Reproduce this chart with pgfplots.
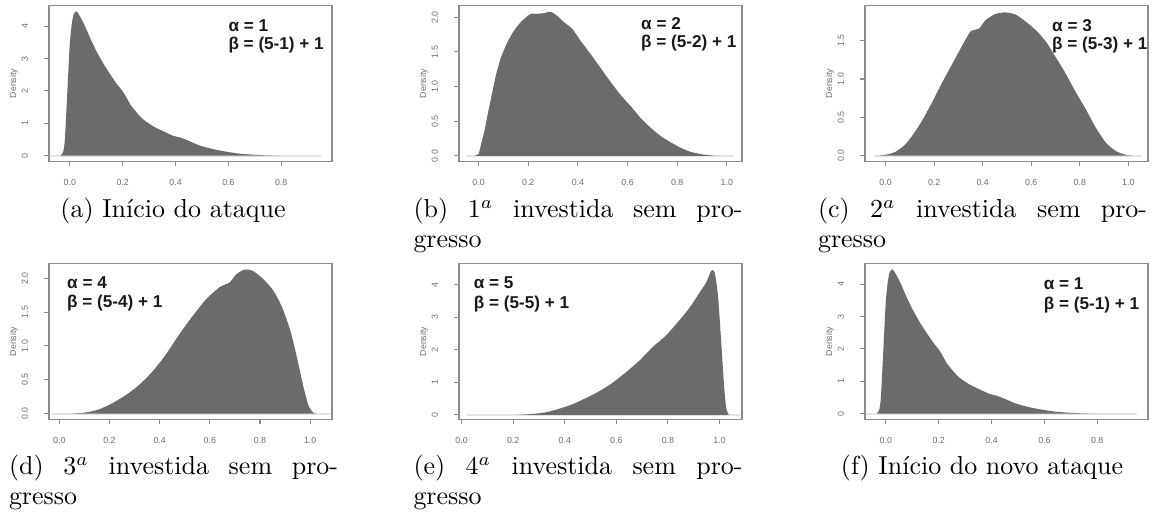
\documentclass[border=0pt]{standalone}
\usepackage{fontspec}
\usepackage{pgfplots}
\usepackage{pgfplotstable}
\pgfplotsset{compat=1.18}
\newfontfamily\rfont{Liberation Sans}
\definecolor{densfill}{HTML}{6B6B6B}
\definecolor{framegray}{HTML}{8C8C8C}
\definecolor{tickgray}{HTML}{6E6E6E}
\definecolor{zerogray}{HTML}{E4E4E4}

% Kernel density estimates of the five Beta priors
\pgfplotstableread{
x y
-0.035 0
-0.025 0.12
-0.019 0.49
-0.013 1.42
-0.006 2.57
0.000 3.50
0.008 4.12
0.015 4.38
0.025 4.46
0.040 4.28
0.059 3.97
0.078 3.61
0.103 3.19
0.128 2.83
0.153 2.51
0.179 2.20
0.204 1.94
0.229 1.58
0.254 1.32
0.279 1.11
0.317 0.90
0.355 0.75
0.392 0.61
0.418 0.56
0.455 0.44
0.493 0.31
0.543 0.20
0.594 0.12
0.644 0.06
0.694 0.03
0.745 0.01
0.795 0
}\densA

\pgfplotstableread{
x y
-0.017 0
0.000 0.03
0.009 0.16
0.023 0.35
0.036 0.59
0.050 0.83
0.070 1.17
0.090 1.42
0.116 1.64
0.143 1.81
0.170 1.93
0.197 2.02
0.210 2.05
0.237 2.05
0.264 2.06
0.290 2.08
0.317 2.02
0.344 1.93
0.378 1.83
0.411 1.66
0.451 1.47
0.491 1.27
0.531 1.07
0.572 0.88
0.612 0.72
0.652 0.55
0.692 0.41
0.732 0.29
0.772 0.20
0.813 0.12
0.853 0.06
0.906 0.02
0.950 0.003
0.970 0
}\densB

\pgfplotstableread{
x y
-0.027 0
0.014 0.02
0.041 0.05
0.076 0.13
0.110 0.26
0.151 0.46
0.192 0.70
0.234 0.96
0.275 1.20
0.316 1.44
0.350 1.62
0.385 1.66
0.412 1.77
0.453 1.85
0.495 1.87
0.536 1.84
0.577 1.75
0.618 1.64
0.660 1.49
0.700 1.29
0.742 1.07
0.783 0.83
0.824 0.61
0.865 0.37
0.907 0.17
0.948 0.06
0.989 0.01
1.016 0
}\densC

\pgfplotstableread{
x y
0.050 0
0.103 0.015
0.157 0.06
0.210 0.15
0.264 0.27
0.317 0.42
0.371 0.62
0.424 0.87
0.478 1.17
0.531 1.44
0.585 1.69
0.639 1.87
0.679 1.94
0.705 2.06
0.739 2.13
0.772 2.11
0.813 1.99
0.853 1.82
0.886 1.59
0.920 1.24
0.946 0.85
0.973 0.40
0.993 0.12
1.013 0.01
1.027 0
}\densD

\pgfplotstableread{
x y
0.210 0
0.275 0.03
0.326 0.08
0.378 0.19
0.430 0.33
0.482 0.52
0.534 0.73
0.585 0.99
0.637 1.31
0.689 1.67
0.741 2.09
0.793 2.45
0.845 2.92
0.883 3.29
0.922 3.76
0.948 4.07
0.968 4.44
0.981 4.39
0.994 3.66
1.006 2.30
1.017 0.94
1.026 0.21
1.036 0
}\densE

\newcommand\tickfont{\rfont\fontsize{3.4}{4}\selectfont}
\newcommand\notefont{\rfont\bfseries\fontsize{6.6}{7}\selectfont}

\pgfplotsset{
  densplot/.style={
    scale only axis, width=108.955pt, height=60.06pt,
    anchor=north west,
    axis on top,
    axis line style={draw=framegray, line width=0.5pt},
    tick align=outside, major tick length=1.9pt,
    every tick/.style={draw=framegray, line width=0.4pt},
    xtick pos=left, ytick pos=left,
    /pgf/number format/.cd, fixed, fixed zerofill, precision=1, assume math mode=true, /pgfplots/.cd,
    tick label style={font=\tickfont, text=tickgray, inner sep=0pt},
    xticklabel style={anchor=north},
    yticklabel style={rotate=90, anchor=south},
    xticklabel shift=4.9pt, yticklabel shift=6pt,
    ylabel={Density},
    ylabel style={font=\tickfont, text=tickgray, inner sep=0pt,
                  at={(axis description cs:-0.124,0.5)}, anchor=center},
  },
  zeroline/.style={draw=zerogray, line width=0.8pt},
  densarea/.style={fill=densfill, draw=none, smooth, tension=0.4},
}

\begin{document}
\begin{tikzpicture}
\path[use as bounding box] (0,0) rectangle (449.295pt,-199.045pt);

% (a)
\begin{axis}[densplot, at={(18.865pt,-2.1175pt)},
  xmin=-0.079, xmax=0.992, ymin=-0.18, ymax=4.64,
  xtick={0,0.2,0.4,0.6,0.8}, ytick={0,1,2,3,4},
  yticklabel style={/pgf/number format/precision=0}]
  \addplot[zeroline] coordinates {(-0.075,0) (0.95,0)};
  \addplot[densarea] table {\densA} \closedcycle;
\end{axis}

% (b)
\begin{axis}[densplot, at={(176.715pt,-2.1175pt)},
  xmin=-0.079, xmax=1.061, ymin=-0.08, ymax=2.17,
  xtick={0,0.2,0.4,0.6,0.8,1.0}, ytick={0,0.5,1,1.5,2}]
  \addplot[zeroline] coordinates {(-0.05,0) (1.027,0)};
  \addplot[densarea] table {\densB} \closedcycle;
\end{axis}

% (c)
\begin{axis}[densplot, at={(333.025pt,-2.1175pt)},
  xmin=-0.085, xmax=1.081, ymin=-0.077, ymax=1.96,
  xtick={0,0.2,0.4,0.6,0.8,1.0}, ytick={0,0.5,1,1.5}]
  \addplot[zeroline] coordinates {(-0.048,0) (1.058,0)};
  \addplot[densarea] table {\densC} \closedcycle;
\end{axis}

% (d)
\begin{axis}[densplot, at={(18.865pt,-101.45pt)},
  xmin=-0.041, xmax=1.087, ymin=-0.088, ymax=2.22,
  xtick={0,0.2,0.4,0.6,0.8,1.0}, ytick={0,0.5,1,1.5,2}]
  \addplot[zeroline] coordinates {(-0.03,0) (1.08,0)};
  \addplot[densarea] table {\densD} \closedcycle;
\end{axis}

% (e)
\begin{axis}[densplot, at={(176.715pt,-101.45pt)},
  xmin=-0.01, xmax=1.087, ymin=-0.14, ymax=4.66,
  xtick={0,0.2,0.4,0.6,0.8,1.0}, ytick={0,1,2,3,4},
  yticklabel style={/pgf/number format/precision=0}]
  \addplot[zeroline] coordinates {(0.022,0) (1.08,0)};
  \addplot[densarea] table {\densE} \closedcycle;
\end{axis}

% (f)
\begin{axis}[densplot, at={(333.025pt,-101.45pt)},
  xmin=-0.079, xmax=0.992, ymin=-0.18, ymax=4.64,
  xtick={0,0.2,0.4,0.6,0.8}, ytick={0,1,2,3,4},
  yticklabel style={/pgf/number format/precision=0}]
  \addplot[zeroline] coordinates {(-0.075,0) (0.95,0)};
  \addplot[densarea] table {\densA} \closedcycle;
\end{axis}

% parameter annotations
\begin{scope}[every node/.style={anchor=base west, inner sep=0pt, font=\notefont, text=black!90}]
  \node at (87.78pt,-12.2pt)   {α = 1};
  \node at (87.78pt,-19.25pt)  {β = (5-1) + 1};
  \node at (246.67pt,-11.17pt) {α = 2};
  \node at (246.67pt,-18.48pt) {β = (5-2) + 1};
  \node at (404.9pt,-12.2pt)   {α = 3};
  \node at (404.9pt,-19.25pt)  {β = (5-3) + 1};
  \node at (25.68pt,-111.0pt)  {α = 4};
  \node at (25.68pt,-118.46pt) {β = (5-4) + 1};
  \node at (182.22pt,-111.0pt) {α = 5};
  \node at (182.22pt,-118.7pt) {β = (5-5) + 1};
  \node at (401.67pt,-111.65pt){α = 1};
  \node at (401.67pt,-118.97pt){β = (5-1) + 1};
\end{scope}

% sub-captions
\begin{scope}[every node/.style={inner sep=0pt}]
  \node[anchor=base] at (66.6pt,-83.93pt) {(a) Início do ataque};
  \node[anchor=base west] at (159.0pt,-83.93pt) {\makebox[126.7pt][s]{(b) $1^a$ investida sem pro-}};
  \node[anchor=base west] at (159.0pt,-95.48pt) {gresso};
  \node[anchor=base west] at (314.74pt,-83.93pt) {\makebox[126.7pt][s]{(c) $2^a$ investida sem pro-}};
  \node[anchor=base west] at (314.74pt,-95.48pt) {gresso};
  \node[anchor=base west] at (3.27pt,-182.875pt) {\makebox[126.7pt][s]{(d) $3^a$ investida sem pro-}};
  \node[anchor=base west] at (3.27pt,-194.425pt) {gresso};
  \node[anchor=base west] at (159.0pt,-182.875pt) {\makebox[126.7pt][s]{(e) $4^a$ investida sem pro-}};
  \node[anchor=base west] at (159.0pt,-194.425pt) {gresso};
  \node[anchor=base] at (378.07pt,-182.875pt) {(f) Início do novo ataque};
\end{scope}
\end{tikzpicture}
\end{document}
